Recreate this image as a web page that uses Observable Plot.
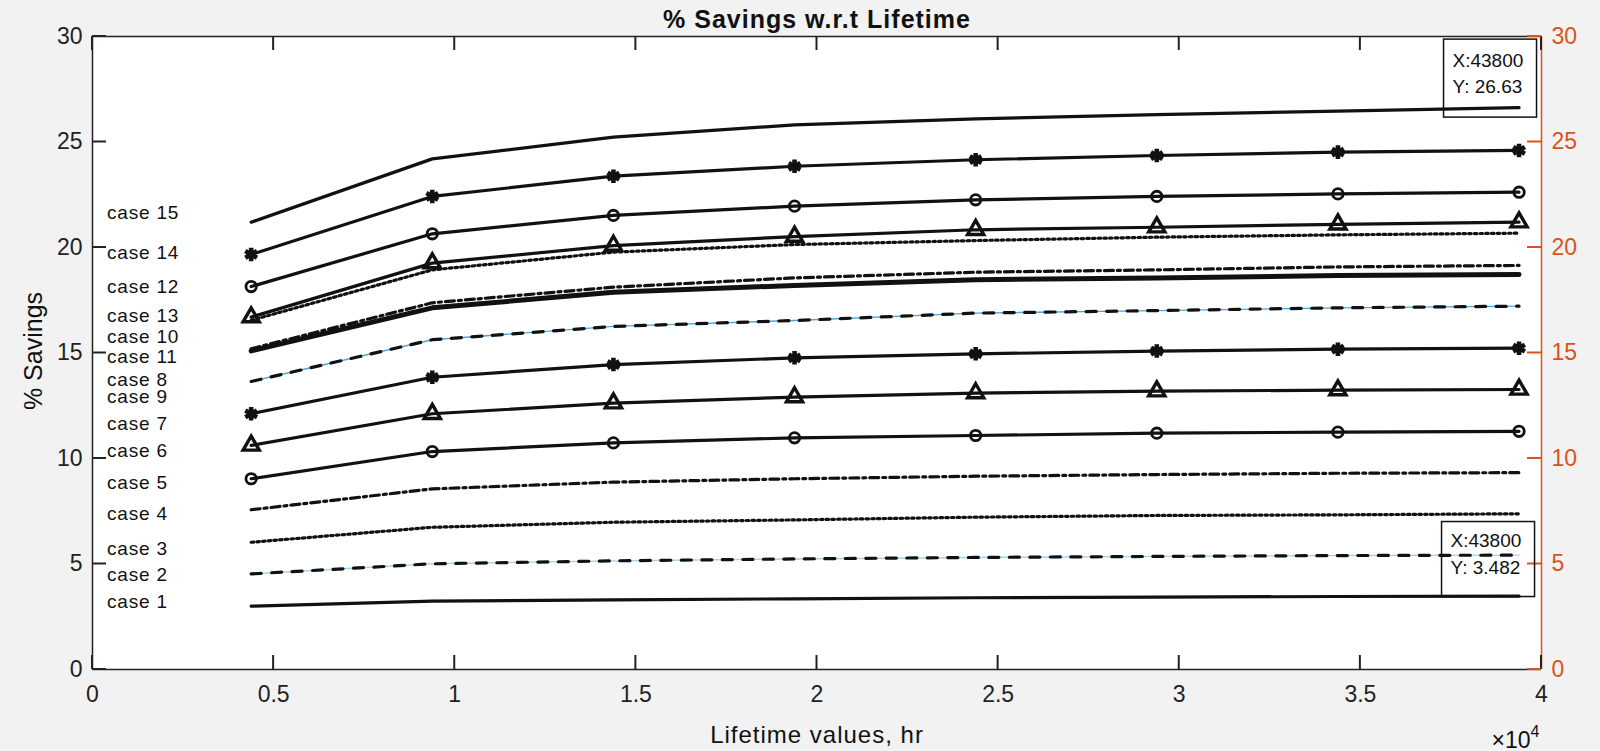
<!DOCTYPE html>
<html><head><meta charset="utf-8">
<script src="https://cdn.jsdelivr.net/npm/d3@7"></script>
<script src="https://cdn.jsdelivr.net/npm/@observablehq/plot@0.6"></script>
<style>
html,body{margin:0;padding:0;background:#f2f2f2;}
#chart svg{display:block;}
.caselab text{letter-spacing:0.8px;}
.ttl text{letter-spacing:1px;}
.xlab text{letter-spacing:1px;}
</style></head><body><div id="chart"></div>
<script>
// Lifetime values (hr)
const lifetimes = [4380, 9380, 14380, 19380, 24380, 29380, 34380, 39380];
const xTicks = [0, 5000, 10000, 15000, 20000, 25000, 30000, 35000, 40000];
const yTicks = [0, 5, 10, 15, 20, 25, 30];

// % savings per case
const case1  = [3.00, 3.24, 3.30, 3.35, 3.40, 3.43, 3.46, 3.482];
const case2  = [4.53, 5.01, 5.15, 5.24, 5.31, 5.36, 5.40, 5.42];
const case3  = [6.03, 6.74, 6.98, 7.09, 7.22, 7.30, 7.33, 7.38];
const case4  = [7.57, 8.56, 8.88, 9.04, 9.16, 9.24, 9.30, 9.33];
const case5  = [9.04, 10.33, 10.74, 10.98, 11.09, 11.20, 11.25, 11.29];
const case6  = [10.62, 12.12, 12.62, 12.91, 13.10, 13.19, 13.24, 13.27];
const case7  = [12.12, 13.85, 14.45, 14.77, 14.96, 15.09, 15.18, 15.23];
const case8  = [15.10, 17.14, 17.88, 18.20, 18.47, 18.56, 18.67, 18.72];
const case9  = [13.65, 15.63, 16.26, 16.54, 16.89, 17.01, 17.14, 17.22];
const case10 = [16.55, 18.94, 19.78, 20.14, 20.33, 20.49, 20.60, 20.68];
const case11 = [15.20, 17.38, 18.12, 18.56, 18.83, 18.94, 19.08, 19.15];
const case12 = [18.15, 20.65, 21.52, 21.96, 22.26, 22.42, 22.54, 22.62];
const case13 = [16.70, 19.26, 20.09, 20.52, 20.84, 20.96, 21.10, 21.20];
const case14 = [19.67, 22.42, 23.38, 23.85, 24.16, 24.36, 24.52, 24.60];
const case15 = [21.20, 24.20, 25.23, 25.81, 26.10, 26.30, 26.46, 26.63];

const caseNames = ["case 1","case 2","case 3","case 4","case 5","case 6","case 7","case 8",
                   "case 9","case 10","case 11","case 12","case 13","case 14","case 15"];
// where each case name sits (value axis) and the lifetime where it starts
const labelY = [3.19, 4.49, 5.72, 7.38, 8.85, 10.35, 11.64, 13.74, 12.94, 15.78, 14.83, 18.12, 16.78, 19.73, 21.63];
const labelX = 400;

// data tips
const tipXText = "43800";
const tipCases = [15, 1];

const series = [case1,case2,case3,case4,case5,case6,case7,case8,case9,case10,case11,case12,case13,case14,case15];

const orange = "#D95319";
const ink = "#111";
const tickLen = 14;
const marks = [];
marks.push(Plot.frame({fill: "white", stroke: "none"}));

series.forEach((vals, i) => {
  const c = i + 1;
  const rows = vals.map((v, j) => ({x: lifetimes[j], y: v}));
  const kind = (c - 1) % 7; // 0 solid,1 dashed,2 dotted,3 dash-dot,4 circle,5 triangle,6 asterisk
  const base = {x: "x", y: "y", stroke: ink, strokeWidth: 3.2, strokeLinejoin: "round"};
  if (kind === 0) {
    marks.push(Plot.line(rows, {...base, strokeWidth: c === 8 ? 5 : 3.2}));
  } else if (kind === 1) {
    marks.push(Plot.line(rows, {x: "x", y: "y", stroke: "#4da6de", strokeWidth: 1.4, strokeOpacity: c === 9 ? 1 : 0.5}));
    marks.push(Plot.line(rows, {...base, strokeDasharray: "10,10.5"}));
  } else if (kind === 2) {
    marks.push(Plot.line(rows, {...base, strokeDasharray: "2.5,3.2"}));
  } else if (kind === 3) {
    marks.push(Plot.line(rows, {...base, strokeDasharray: "9,4,3,4"}));
  } else {
    marks.push(Plot.line(rows, base));
    if (kind === 4) marks.push(Plot.dot(rows, {x: "x", y: "y", symbol: "circle", r: 5.2, stroke: ink, strokeWidth: 2.8, fill: "none"}));
    if (kind === 5) marks.push(Plot.dot(rows, {x: "x", y: "y", symbol: "triangle", r: 6, stroke: ink, strokeWidth: 3.4, fill: "none"}));
    if (kind === 6) marks.push(Plot.dot(rows, {x: "x", y: "y", symbol: "asterisk", r: 6.4, stroke: ink, strokeWidth: 4.6}));
  }
});

marks.push(Plot.text(caseNames, {x: () => labelX, y: (d, i) => labelY[i], text: d => d,
  textAnchor: "start", lineAnchor: "middle", fontSize: 19, fill: ink, className: "caselab"}));

// frame edges
marks.push(Plot.ruleY([0, 30], {stroke: "#222", strokeWidth: 1.5}));
marks.push(Plot.ruleX([0], {stroke: "#222", strokeWidth: 1.5}));
marks.push(Plot.ruleX([40000], {stroke: orange, strokeWidth: 1.5}));

// tick labels
marks.push(Plot.axisY({anchor: "left", ticks: yTicks, tickSize: 0, tickPadding: 10, fontSize: 23, color: "#222", label: null, tickFormat: d => d}));
marks.push(Plot.axisY({anchor: "right", ticks: yTicks, tickSize: 0, tickPadding: 10, fontSize: 23, color: orange, label: null, tickFormat: d => d}));
marks.push(Plot.axisX({anchor: "bottom", ticks: xTicks, tickSize: 0, tickPadding: 16, fontSize: 23, color: "#222", label: null, tickFormat: d => d / 1e4}));

// titles
marks.push(Plot.text(["% Savings w.r.t Lifetime"], {frameAnchor: "top", text: d => d, textAnchor: "middle", lineAnchor: "bottom", dy: -9, fontSize: 25, fontWeight: "bold", fill: ink, className: "ttl"}));
marks.push(Plot.text(["% Savings"], {frameAnchor: "left", text: d => d, textAnchor: "middle", lineAnchor: "middle", rotate: -90, dx: -59, dy: -2, fontSize: 25, fill: ink}));
marks.push(Plot.text(["Lifetime values, hr"], {frameAnchor: "bottom", text: d => d, textAnchor: "middle", lineAnchor: "bottom", dy: 73, fontSize: 24, fill: ink, className: "xlab"}));
marks.push(Plot.text(["×10"], {frameAnchor: "bottom-right", text: d => d, textAnchor: "end", lineAnchor: "bottom", dx: -11, dy: 78, fontSize: 23, fill: ink}));
marks.push(Plot.text(["4"], {frameAnchor: "bottom-right", text: d => d, textAnchor: "start", lineAnchor: "bottom", dx: -11, dy: 67, fontSize: 16, fill: ink}));

const chart = Plot.plot({
  width: 1600, height: 751,
  marginTop: 36, marginBottom: 82, marginLeft: 92, marginRight: 59,
  x: {domain: [0, 40000]},
  y: {domain: [0, 30]},
  style: {fontFamily: "'Liberation Sans', Arial, sans-serif", background: "#f2f2f2", color: ink},
  marks
});
document.getElementById("chart").appendChild(chart);

// use the plot's own scales for inward ticks and data tips
const xs = chart.scale("x"), ys = chart.scale("y");
const fx = d3.scaleLinear(xs.domain, xs.range), fy = d3.scaleLinear(ys.domain, ys.range);
const svg = d3.select(chart);
const xL = fx(0), xR = fx(40000), yB = fy(0), yT = fy(30);
const tg = svg.append("g").attr("fill", "none").attr("stroke-width", 2).attr("stroke-linecap", "butt");
xTicks.forEach(t => {
  const x = fx(t);
  tg.append("path").attr("d", `M${x},${yB}V${yB - tickLen}`).attr("stroke", "#222");
  tg.append("path").attr("d", `M${x},${yT}V${yT + tickLen}`).attr("stroke", "#222");
});
yTicks.forEach(t => {
  const y = fy(t);
  tg.append("path").attr("d", `M${xL},${y}H${xL + tickLen}`).attr("stroke", "#222");
  tg.append("path").attr("d", `M${xR},${y}H${xR - tickLen}`).attr("stroke", orange);
});

const tipGeom = {15: {l: -75, r: 18, t: -68, b: 10, tx: -66, y1: -47, y2: -21},
                 1:  {l: -77, r: 16, t: -74, b: 1,  tx: -68, y1: -55, y2: -28}};
tipCases.forEach(c => {
  const vals = series[c - 1];
  const px = fx(lifetimes[lifetimes.length - 1]), py = fy(vals[vals.length - 1]);
  const g = tipGeom[c];
  const grp = svg.append("g").attr("text-anchor", "start").attr("font-family", "'Liberation Sans', Arial, sans-serif");
  grp.append("rect").attr("x", px + g.l).attr("y", py + g.t).attr("width", g.r - g.l).attr("height", g.b - g.t)
    .attr("fill", "none").attr("stroke", "#111").attr("stroke-width", 1.5);
  grp.append("text").attr("x", px + g.tx).attr("y", py + g.y1).attr("dy", "0.35em").attr("font-size", 19).attr("fill", "#111").text("X:" + tipXText);
  grp.append("text").attr("x", px + g.tx).attr("y", py + g.y2).attr("dy", "0.35em").attr("font-size", 19).attr("fill", "#111").text("Y: " + vals[vals.length - 1]);
});
</script></body></html>
